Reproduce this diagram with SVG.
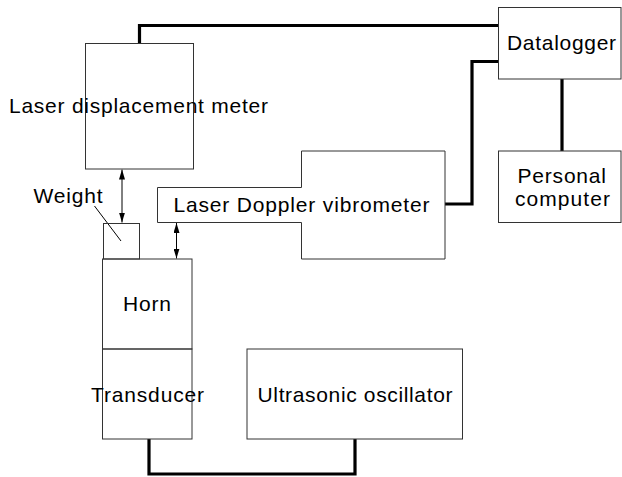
<svg xmlns="http://www.w3.org/2000/svg" width="622" height="477" viewBox="0 0 622 477">
<style>
.box{fill:none;stroke:#333;stroke-width:1}
.wire{fill:none;stroke:#000;stroke-width:3.2}
.thin{fill:none;stroke:#000;stroke-width:1}
text{font-family:"Liberation Sans",Arial,sans-serif;font-size:21px;fill:#000}
</style>
<defs>
<marker id="ah" viewBox="0 0 10 6" refX="10" refY="3" markerWidth="10" markerHeight="6" markerUnits="userSpaceOnUse" orient="auto-start-reverse">
<path d="M0,0 L10,3 L0,6 Z" fill="#000"/>
</marker>
</defs>
<rect width="622" height="477" fill="#fff"/>
<g id="connectors">
<path class="wire" d="M139.5,43.5 V25.5 H498.5"/>
<path class="wire" d="M445,204 H472 V61.5 H498.5"/>
<path class="wire" d="M562,79 V151"/>
<path class="wire" d="M149,439 V474 H355 V439"/>
<path class="thin" d="M122,169.5 V222.5" marker-start="url(#ah)" marker-end="url(#ah)"/>
<path class="thin" d="M176.5,223 V258.5" marker-start="url(#ah)" marker-end="url(#ah)"/>
<path class="thin" d="M94.5,206 L121,241" stroke="#333"/>
</g>
<g id="laser-displacement-meter">
<rect class="box" x="85.5" y="43.5" width="108" height="125.5"/>
<text x="9" y="113" textLength="259" lengthAdjust="spacing">Laser displacement meter</text>
</g>
<g id="weight">
<rect class="box" x="103.5" y="223.5" width="36" height="35.5"/>
<text x="33.5" y="202.5" textLength="69" lengthAdjust="spacing">Weight</text>
</g>
<g id="laser-doppler-vibrometer">
<polygon class="box" points="157.5,187.5 301.5,187.5 301.5,151 445,151 445,259 301.5,259 301.5,222.5 157.5,222.5"/>
<text x="173.5" y="212" textLength="256" lengthAdjust="spacing">Laser Doppler vibrometer</text>
</g>
<g id="datalogger">
<rect class="box" x="498.5" y="7.5" width="122.5" height="71.5"/>
<text x="507" y="49.5" textLength="109" lengthAdjust="spacing">Datalogger</text>
</g>
<g id="personal-computer">
<rect class="box" x="498.5" y="151" width="122.5" height="71.5"/>
<text x="517.5" y="182.5" textLength="88.5" lengthAdjust="spacing">Personal</text>
<text x="515" y="206" textLength="95" lengthAdjust="spacing">computer</text>
</g>
<g id="horn">
<rect class="box" x="102.5" y="259" width="89.5" height="90"/>
<text x="123" y="311" textLength="48" lengthAdjust="spacing">Horn</text>
</g>
<g id="transducer">
<rect class="box" x="102.5" y="349" width="89.5" height="90"/>
<text x="91" y="401.5" textLength="113" lengthAdjust="spacing">Transducer</text>
</g>
<g id="ultrasonic-oscillator">
<rect class="box" x="247" y="349" width="215.5" height="90"/>
<text x="257.5" y="401.5" textLength="195" lengthAdjust="spacing">Ultrasonic oscillator</text>
</g>
</svg>
